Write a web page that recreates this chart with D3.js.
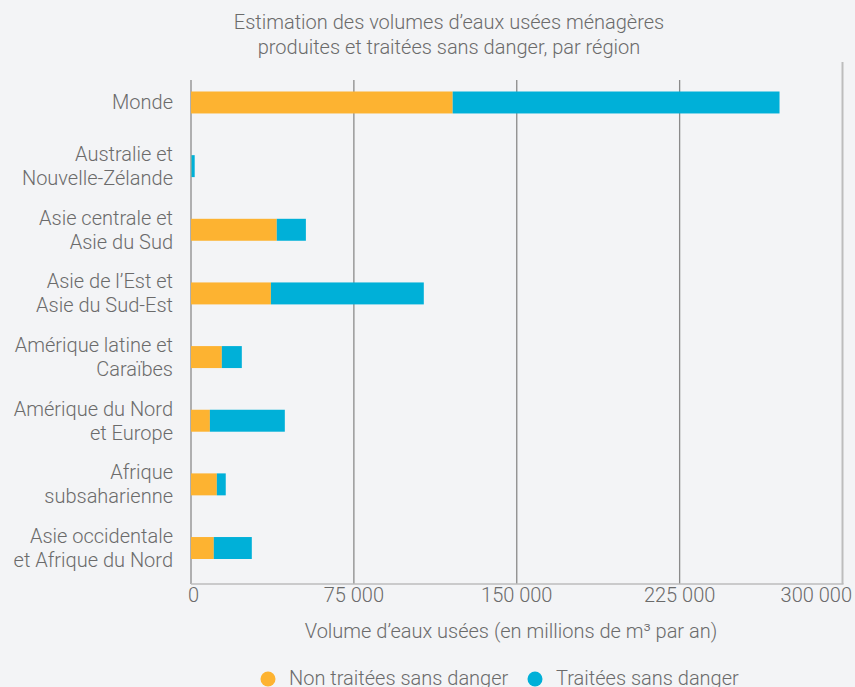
<!DOCTYPE html>
<html>
<head>
<meta charset="utf-8">
<script src="https://cdn.jsdelivr.net/npm/d3@7"></script>
<style>
  body { margin: 0; background: #f3f4f6; }
  svg { display: block; font-family: Roboto, "Open Sans", sans-serif; font-weight: 300; }
  text { fill: #6b6b6b; }
</style>
</head>
<body>
<svg width="855" height="687"></svg>
<script>
// regions, each label split on two lines
const regions = [
    ["Monde"],
    ["Australie et", "Nouvelle-Zélande"],
    ["Asie centrale et", "Asie du Sud"],
    ["Asie de l\u2019Est et", "Asie du Sud-Est"],
    ["Amérique latine et", "Caraïbes"],
    ["Amérique du Nord", "et Europe"],
    ["Afrique", "subsaharienne"],
    ["Asie occidentale", "et Afrique du Nord"]
];
// millions of m3 per year
const nonTraitees = [120500, 200, 39500, 36800, 14200, 8700, 11900, 10500];
const traitees    = [150500, 1500, 13400, 70400, 9200, 34500, 4100, 17500];
const xTicks = [0, 75000, 150000, 225000, 300000];
const seriesNames = ["Non traitées sans danger", "Traitées sans danger"];
const colors = ["#fdb331", "#00b0d8"];

const svg = d3.select("svg");
const x = d3.scaleLinear().domain([0, 300000]).range([191, 842.5]);
const y = d3.scaleBand().domain(d3.range(regions.length)).range([70.5, 580]).paddingInner(0.655).paddingOuter(0.33);

// title
svg.append("text")
    .attr("x", 449).attr("y", 29)
    .attr("text-anchor", "middle")
    .style("font-size", "20px")
    .selectAll("tspan")
    .data(["Estimation des volumes d\u2019eaux usées ménagères", "produites et traitées sans danger, par région"])
    .enter().append("tspan")
    .attr("x", 449)
    .attr("dy", (d, i) => i ? 24.5 : 0)
    .text(d => d);

// gridlines
svg.append("g").selectAll("line")
    .data(xTicks)
    .enter().append("line")
    .attr("x1", d => x(d)).attr("x2", d => x(d))
    .attr("y1", d => d === 300000 ? 62 : 80)
    .attr("y2", 584)
    .attr("stroke", d => d === 300000 ? "#bdbdbd" : "#8a8a8a")
    .attr("stroke-width", d => d === 300000 ? 2 : 1.3);

svg.append("line")
    .attr("x1", x(0)).attr("x2", x(300000) + 1)
    .attr("y1", 584).attr("y2", 584)
    .attr("stroke", "#bdbdbd").attr("stroke-width", 1.3);

// bars
const stack = d3.stack().keys([0, 1])(regions.map((r, i) => [nonTraitees[i], traitees[i]]));
svg.append("g").selectAll("g")
    .data(stack)
    .enter().append("g")
    .attr("fill", (d, i) => colors[i])
    .selectAll("rect")
    .data(d => d)
    .enter().append("rect")
    .attr("x", d => x(d[0]))
    .attr("width", d => x(d[1]) - x(d[0]))
    .attr("y", (d, i) => y(i))
    .attr("height", y.bandwidth());

// category labels
const labels = svg.append("g").selectAll("text")
    .data(regions)
    .enter().append("text")
    .attr("text-anchor", "end")
    .style("font-size", "20px")
    .attr("y", (d, i) => y(i) + y.bandwidth() / 2 + 7 - (d.length - 1) * 12);
labels.selectAll("tspan")
    .data(d => d)
    .enter().append("tspan")
    .attr("x", 173)
    .attr("dy", (d, i) => i ? 24 : 0)
    .text(d => d);

// tick labels
svg.append("g").selectAll("text")
    .data(xTicks)
    .enter().append("text")
    .attr("x", (d, i) => i === 0 ? 188 : i === xTicks.length - 1 ? 852 : x(d))
    .attr("y", 602)
    .attr("text-anchor", (d, i) => i === 0 ? "start" : i === xTicks.length - 1 ? "end" : "middle")
    .style("font-size", "20px")
    .text(d => d3.format(",")(d).replace(",", " "));

svg.append("text")
    .attr("x", 511).attr("y", 638)
    .attr("text-anchor", "middle")
    .style("font-size", "20px")
    .text("Volume d\u2019eaux usées (en millions de m³ par an)");

// legend
const legend = svg.append("g").selectAll("g")
    .data(seriesNames)
    .enter().append("g")
    .attr("transform", (d, i) => "translate(" + (i ? 535 : 268) + ",679)");
legend.append("circle").attr("r", 7.5).attr("fill", (d, i) => colors[i]);
legend.append("text").attr("x", 21).attr("y", 6).style("font-size", "20px").text(d => d);
</script>
</body>
</html>
